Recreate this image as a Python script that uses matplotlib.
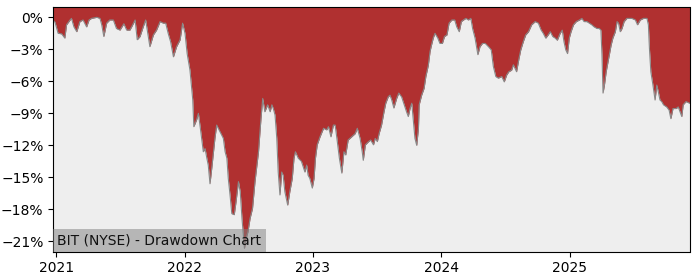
import numpy as np
import pandas as pd
import matplotlib
matplotlib.use("Agg")
from matplotlib import pyplot as plt
import matplotlib.dates as mdates
from matplotlib.ticker import PercentFormatter

# drawdown readings (percent) taken from the chart
dates = [
    "2020-12-23", "2020-12-28", "2021-01-06", "2021-01-16", "2021-01-25", "2021-01-30",
    "2021-02-09", "2021-02-13", "2021-02-20", "2021-02-28", "2021-03-09", "2021-03-18",
    "2021-03-28", "2021-04-04", "2021-04-11", "2021-04-26", "2021-05-05", "2021-05-10",
    "2021-05-16", "2021-05-24", "2021-06-02", "2021-06-12", "2021-06-21", "2021-07-01",
    "2021-07-12", "2021-07-20", "2021-07-29", "2021-08-03", "2021-08-13", "2021-08-19",
    "2021-08-27", "2021-09-05", "2021-09-12", "2021-09-24", "2021-10-04", "2021-10-13",
    "2021-10-23", "2021-11-01", "2021-11-08", "2021-11-15", "2021-11-22", "2021-11-30",
    "2021-12-09", "2021-12-19", "2021-12-26", "2022-01-02", "2022-01-08", "2022-01-16",
    "2022-01-24", "2022-01-27", "2022-02-04", "2022-02-09", "2022-02-14", "2022-02-23",
    "2022-02-28", "2022-03-05", "2022-03-09", "2022-03-14", "2022-03-19", "2022-03-28",
    "2022-04-02", "2022-04-11", "2022-04-21", "2022-04-26", "2022-05-01", "2022-05-05",
    "2022-05-10", "2022-05-15", "2022-05-22", "2022-05-27", "2022-06-03", "2022-06-08",
    "2022-06-13", "2022-06-17", "2022-06-20", "2022-06-25", "2022-06-30", "2022-07-06",
    "2022-07-13", "2022-07-20", "2022-07-30", "2022-08-06", "2022-08-11", "2022-08-17",
    "2022-08-25", "2022-09-01", "2022-09-06", "2022-09-10", "2022-09-15", "2022-09-20",
    "2022-09-24", "2022-09-29", "2022-10-04", "2022-10-08", "2022-10-13", "2022-10-21",
    "2022-10-27", "2022-11-03", "2022-11-08", "2022-11-12", "2022-11-20", "2022-11-29",
    "2022-12-09", "2022-12-14", "2022-12-18", "2022-12-23", "2022-12-30", "2023-01-04",
    "2023-01-08", "2023-01-13", "2023-01-21", "2023-01-31", "2023-02-09", "2023-02-14",
    "2023-02-21", "2023-02-28", "2023-03-05", "2023-03-10", "2023-03-17", "2023-03-24",
    "2023-03-30", "2023-04-04", "2023-04-11", "2023-04-21", "2023-05-01", "2023-05-07",
    "2023-05-15", "2023-05-21", "2023-05-24", "2023-05-30", "2023-06-08", "2023-06-14",
    "2023-06-22", "2023-06-27", "2023-07-03", "2023-07-08", "2023-07-15", "2023-07-22",
    "2023-07-27", "2023-08-03", "2023-08-08", "2023-08-13", "2023-08-19", "2023-08-27",
    "2023-09-02", "2023-09-10", "2023-09-16", "2023-09-24", "2023-09-29", "2023-10-04",
    "2023-10-09", "2023-10-13", "2023-10-18", "2023-10-23", "2023-10-28", "2023-10-30",
    "2023-11-06", "2023-11-13", "2023-11-18", "2023-11-25", "2023-11-30", "2023-12-03",
    "2023-12-09", "2023-12-14", "2023-12-22", "2023-12-28", "2024-01-04", "2024-01-10",
    "2024-01-17", "2024-01-23", "2024-01-31", "2024-02-08", "2024-02-14", "2024-02-21",
    "2024-02-27", "2024-03-04", "2024-03-11", "2024-03-18", "2024-03-25", "2024-03-30",
    "2024-04-06", "2024-04-14", "2024-04-20", "2024-04-27", "2024-05-05", "2024-05-14",
    "2024-05-22", "2024-05-28", "2024-06-04", "2024-06-11", "2024-06-21", "2024-06-28",
    "2024-07-05", "2024-07-11", "2024-07-19", "2024-07-24", "2024-08-02", "2024-08-09",
    "2024-08-14", "2024-08-21", "2024-08-28", "2024-09-05", "2024-09-14", "2024-09-24",
    "2024-10-03", "2024-10-11", "2024-10-17", "2024-10-24", "2024-10-31", "2024-11-06",
    "2024-11-13", "2024-11-20", "2024-11-26", "2024-12-04", "2024-12-10", "2024-12-15",
    "2024-12-20", "2024-12-25", "2024-12-30", "2025-01-04", "2025-01-11", "2025-01-19",
    "2025-01-28", "2025-02-04", "2025-02-10", "2025-02-18", "2025-02-25", "2025-03-04",
    "2025-03-11", "2025-03-19", "2025-03-25", "2025-03-30", "2025-04-02", "2025-04-05",
    "2025-04-09", "2025-04-14", "2025-04-21", "2025-04-28", "2025-05-03", "2025-05-10",
    "2025-05-15", "2025-05-19", "2025-05-24", "2025-05-29", "2025-06-04", "2025-06-12",
    "2025-06-26", "2025-07-06", "2025-07-12", "2025-07-20", "2025-07-29", "2025-08-08",
    "2025-08-12", "2025-08-15", "2025-08-19", "2025-08-25", "2025-08-31", "2025-09-05",
    "2025-09-10", "2025-09-14", "2025-09-19", "2025-09-24", "2025-10-03", "2025-10-10",
    "2025-10-15", "2025-10-21", "2025-10-30", "2025-11-05", "2025-11-10", "2025-11-15",
    "2025-11-19", "2025-11-27", "2025-12-07",
]
drawdown = [
    -0.3, -0.45, -1.5, -1.55, -1.95, -0.7,
    -0.25, -0.1, -0.9, -1.35, -0.4, -0.25,
    -0.9, -0.25, -0.1, 0.0, -0.1, -0.7,
    -1.8, -0.55, -0.25, -0.25, -1.05, -1.2,
    -0.6, -1.2, -1.2, -0.9, -0.25, -2.1,
    -1.8, -0.9, -0.25, -2.75, -1.65, -1.2,
    -0.4, -0.55, -0.55, -1.5, -2.3, -3.7,
    -2.75, -2.1, -0.55, -1.5, -3.4, -4.95,
    -7.75, -10.25, -9.6, -9.0, -10.25, -12.6,
    -12.3, -13.2, -13.85, -15.6, -14.15, -11.35,
    -10.1, -10.7, -11.35, -12.6, -13.2, -15.1,
    -16.65, -18.4, -18.5, -17.3, -15.4, -16.35,
    -18.85, -20.4, -21.65, -20.7, -20.1, -18.85,
    -17.9, -15.4, -12.6, -9.5, -7.6, -8.85,
    -8.2, -8.85, -8.2, -8.55, -9.15, -11.35,
    -14.5, -16.65, -14.5, -14.8, -16.35, -17.6,
    -16.35, -15.1, -13.2, -12.6, -13.2, -13.5,
    -14.5, -13.85, -14.8, -15.1, -16.0, -15.1,
    -13.2, -11.95, -11.2, -10.4, -10.55, -10.25,
    -11.2, -10.1, -10.1, -11.35, -13.2, -14.6,
    -12.6, -12.9, -11.5, -11.2, -10.9, -10.4,
    -11.35, -12.6, -13.4, -11.95, -11.65, -11.5,
    -11.95, -11.35, -11.65, -10.9, -10.1, -8.85,
    -8.05, -7.45, -7.3, -7.75, -8.5, -7.6,
    -7.1, -7.45, -8.05, -8.85, -9.3, -8.55,
    -8.05, -9.5, -11.35, -12.0, -10.4, -8.2,
    -7.3, -6.65, -5.55, -4.5, -3.2, -2.75,
    -1.95, -1.5, -1.95, -2.45, -2.45, -1.8,
    -1.65, -0.55, -0.25, -0.25, -0.9, -1.35,
    -0.4, -0.25, -0.1, -0.25, -0.1, -1.05,
    -1.95, -3.5, -2.75, -2.45, -2.45, -2.75,
    -3.05, -4.6, -5.55, -5.7, -5.55, -6.05,
    -5.4, -5.1, -4.95, -4.45, -5.1, -3.85,
    -3.05, -2.3, -1.65, -1.35, -0.7, -0.4,
    -0.55, -1.2, -1.5, -1.95, -1.65, -1.35,
    -1.8, -1.95, -2.15, -1.5, -1.2, -2.3,
    -3.05, -3.4, -1.95, -1.35, -0.7, -0.4,
    -0.25, -0.1, -0.4, -0.4, -0.55, -0.7,
    -0.9, -1.05, -1.05, -1.2, -3.5, -7.1,
    -6.35, -5.1, -3.85, -2.6, -1.95, -1.35,
    -0.4, -0.55, -1.35, -1.05, -0.4, -0.1,
    -0.1, -0.25, -0.7, -0.25, -0.1, -0.1,
    -0.7, -2.9, -5.1, -6.35, -7.75, -6.35,
    -7.1, -7.75, -7.9, -8.2, -8.4, -8.7,
    -9.5, -8.55, -8.55, -8.4, -8.85, -9.3,
    -8.2, -7.9, -8.05,
]
yticks = [0, -3, -6, -9, -12, -15, -18, -21]
title = "BIT (NYSE) - Drawdown Chart"

t = pd.to_datetime(dates)
dd = np.array(drawdown)

fig = plt.figure(figsize=(7, 2.8), dpi=100)
ax = fig.add_axes([0.076, 0.101, 0.909, 0.873])
ax.set_facecolor("#eeeeee")

ymin, ymax = -21.97, 0.94
# red area from the curve up to the top of the axes, thin grey edge on the curve
ax.fill_between(t, dd, ymax + 1, color="#b03030", linewidth=0)
ax.plot(t, dd, color="#888888", linewidth=0.8)

ax.set_xlim(t[0], t[-1])
ax.set_ylim(ymin, ymax)
ax.set_yticks(yticks)
ax.yaxis.set_major_formatter(PercentFormatter(decimals=0))
ax.xaxis.set_major_locator(mdates.YearLocator())
ax.xaxis.set_major_formatter(mdates.DateFormatter("%Y"))

ax.annotate(title, xy=(0, 0), xycoords="axes fraction", xytext=(3, 3),
            textcoords="offset points", ha="left", va="bottom",
            fontsize=10, color="#111111", zorder=5,
            bbox=dict(facecolor="gray", alpha=0.5, edgecolor="none", pad=3))

fig.savefig("out.png", dpi=100)
